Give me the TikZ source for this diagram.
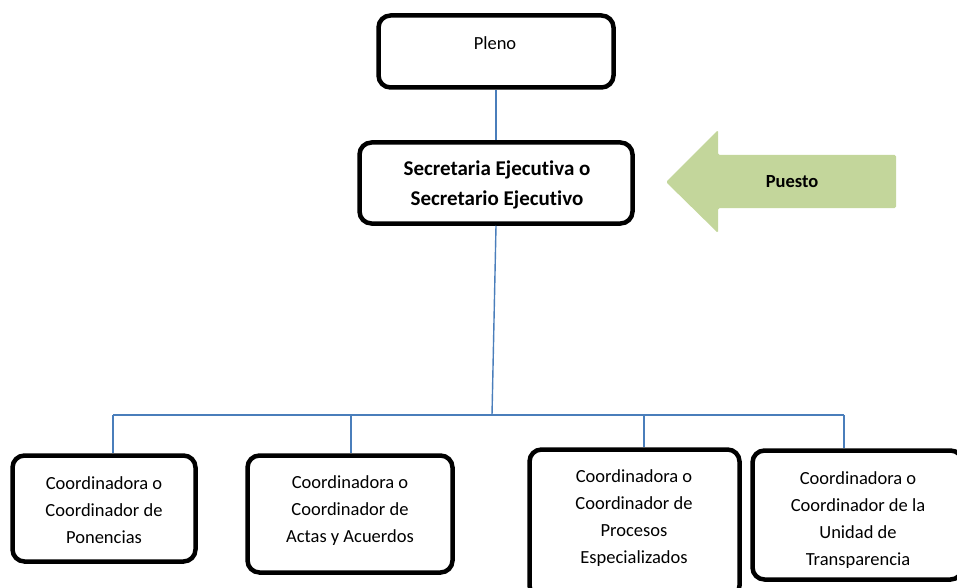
\documentclass[tikz,border=0pt]{standalone}
\usepackage{fontspec}
\setmainfont[Ligatures={NoCommon}]{Carlito}
\definecolor{linkblue}{HTML}{4A7EBB}
\definecolor{puestogreen}{HTML}{C3D69B}
\tikzset{
  box/.style={draw, line width=4.5pt, rounded corners=12pt, inner sep=0pt},
  txt/.style={align=center, inner sep=0pt, font=\fontsize{18.5}{27}\selectfont},
  link/.style={draw=linkblue, line width=1.4pt}
}
\begin{document}
\begin{tikzpicture}[x = 1pt, y = -1pt]
  \useasboundingbox (0,0) rectangle (957,588);
  \clip (0,0) rectangle (957,588);
  % boxes
  \node (pleno) [box, minimum width=235pt, minimum height=72pt] at (496,51.5) {};
  \node (sec) [box, minimum width=273pt, minimum height=81pt] at (496,183) {};
  \node (c1) [box, minimum width=183pt, minimum height=106pt] at (104,508.5) {};
  \node (c2) [box, minimum width=205pt, minimum height=117pt] at (350,514) {};
  \node (c3) [box, minimum width=210pt, minimum height=148pt] at (634.5,523.5) {};
  \node (c4) [box, minimum width=210pt, minimum height=129pt] at (857.5,515) {};
  % texts
  \node (tpleno) [txt] at (495,43) {Pleno};
  \node (tsec) [txt, font=\fontsize{21}{30}\selectfont\bfseries] at (497,185) {Secretaria Ejecutiva o\\Secretario Ejecutivo};
  \node (tc1) [txt] at (104,510) {Coordinadora o\\Coordinador de\\Ponencias};
  \node (tc2) [txt] at (350,511) {Coordinadora o\\Coordinador de\\Actas y Acuerdos};
  \node (tc3) [txt] at (634,518) {Coordinadora o\\Coordinador de\\Procesos\\Especializados};
  \node (tc4) [txt] at (858,520) {Coordinadora o\\Coordinador de la\\Unidad de\\Transparencia};
  % arrow
  \fill [puestogreen, rounded corners=1.5pt] (666,182) -- (718,130) -- (718,155) -- (896,155)
    -- (896,208) -- (718,208) -- (718,233) -- cycle;
  \node (puesto) [txt, font=\fontsize{18.5}{27}\selectfont\bfseries] at (792,182) {Puesto};
  % connectors
  \coordinate (bar) at (492,415);
  \coordinate (d1) at (113,415);
  \coordinate (d2) at (351,415);
  \coordinate (d3) at (644,415);
  \coordinate (d4) at (844,415);
  \draw [link] (pleno.south) -- (sec.north);
  \draw [link] (sec.south) -- (bar);
  \draw [link] (d1) -- (d4);
  \draw [link] (d1) -- (d1 |- c1.north);
  \draw [link] (d2) -- (d2 |- c2.north);
  \draw [link] (d3) -- (d3 |- c3.north);
  \draw [link] (d4) -- (d4 |- c4.north);
\end{tikzpicture}
\end{document}
